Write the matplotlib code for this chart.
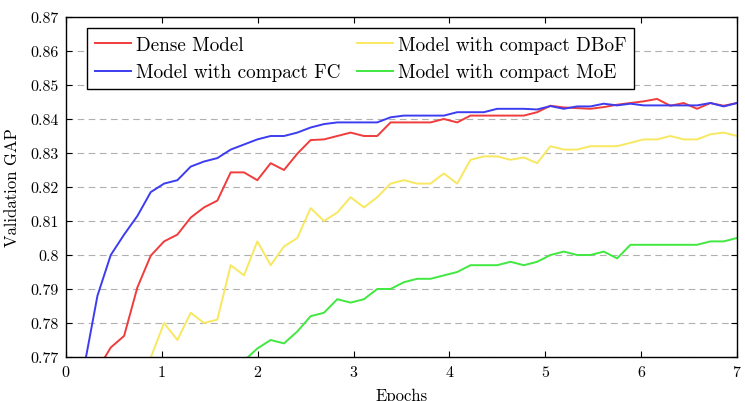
import numpy as np
import matplotlib
matplotlib.use("Agg")
import matplotlib.pyplot as plt

# epochs at which validation GAP was logged
epochs = np.linspace(0.05, 7.0, 51)

nan = np.nan
dense = [nan, nan, 0.7663, 0.7728, 0.7762, 0.7905, 0.7998, 0.804, 0.806, 0.811,
         0.814, 0.816, 0.8243, 0.8243, 0.822, 0.827, 0.825, 0.8298, 0.8338, 0.834,
         0.835, 0.836, 0.835, 0.835, 0.839, 0.839, 0.839, 0.839, 0.840, 0.839,
         0.841, 0.841, 0.841, 0.841, 0.841, 0.842, 0.8439, 0.8434, 0.8432, 0.843,
         0.8435, 0.8442, 0.8447, 0.8452, 0.8459, 0.8439, 0.8447, 0.843, 0.8447, 0.8439,
         0.8447]
compact_fc = [nan, 0.767, 0.788, 0.800, 0.806, 0.8115, 0.8185, 0.821, 0.822, 0.826,
              0.8275, 0.8285, 0.831, 0.8325, 0.834, 0.835, 0.835, 0.836, 0.8375, 0.8385,
              0.839, 0.839, 0.839, 0.839, 0.8405, 0.841, 0.841, 0.841, 0.841, 0.842,
              0.842, 0.842, 0.843, 0.843, 0.843, 0.8428, 0.8438, 0.843, 0.8437, 0.8437,
              0.8445, 0.844, 0.8445, 0.844, 0.844, 0.844, 0.844, 0.844, 0.8447, 0.8437,
              0.8447]
compact_dbof = [nan, nan, nan, nan, nan, 0.762, 0.7698, 0.780, 0.775, 0.783,
                0.780, 0.781, 0.797, 0.794, 0.804, 0.797, 0.8025, 0.805, 0.8138, 0.810,
                0.8125, 0.817, 0.814, 0.817, 0.821, 0.822, 0.821, 0.821, 0.824, 0.821,
                0.828, 0.829, 0.829, 0.828, 0.8287, 0.827, 0.832, 0.831, 0.831, 0.832,
                0.832, 0.832, 0.833, 0.834, 0.834, 0.835, 0.834, 0.834, 0.8355, 0.836,
                0.835]
compact_moe = [nan, nan, nan, nan, nan, nan, nan, nan, nan, nan,
               nan, nan, nan, 0.7689, 0.7725, 0.775, 0.774, 0.7775, 0.782, 0.783,
               0.787, 0.786, 0.787, 0.790, 0.790, 0.792, 0.793, 0.793, 0.794, 0.795,
               0.797, 0.797, 0.797, 0.798, 0.797, 0.798, 0.800, 0.801, 0.800, 0.800,
               0.801, 0.799, 0.803, 0.803, 0.803, 0.803, 0.803, 0.803, 0.804, 0.804,
               0.805]

plt.rcParams["font.family"] = "serif"
plt.rcParams["font.serif"] = ["cmr10"]
plt.rcParams["axes.formatter.use_mathtext"] = True
plt.rcParams["mathtext.fontset"] = "cm"

fig = plt.figure(figsize=(7.45, 4.02), dpi=100)
ax = fig.add_axes([66 / 745, 44 / 402, 671 / 745, 340 / 402])

ax.plot(epochs, dense, color="#f03c3c", lw=1.4, label="Dense Model")
ax.plot(epochs, compact_fc, color="#3c3cf0", lw=1.4, label="Model with compact FC")
ax.plot(epochs, compact_dbof, color="#f8e860", lw=1.4, label="Model with compact DBoF")
ax.plot(epochs, compact_moe, color="#40e840", lw=1.4, label="Model with compact MoE")

ax.set_xlim(0, 7)
ax.set_ylim(0.77, 0.87)
ax.set_xticks(range(8))
yt = [0.77, 0.78, 0.79, 0.80, 0.81, 0.82, 0.83, 0.84, 0.85, 0.86, 0.87]
ax.set_yticks(yt)
ax.set_yticklabels(["%g" % v for v in yt])
ax.tick_params(direction="in", top=True, right=True, length=4, width=0.8,
               labelsize=11.5, pad=5)
ax.yaxis.grid(True, ls=(0, (6, 4)), color="#b0b0b0", lw=0.8)
for s in ax.spines.values():
    s.set_linewidth(1.0)

ax.set_xlabel("Epochs", fontsize=12, labelpad=6)
ax.set_ylabel("Validation GAP", fontsize=12, labelpad=8)

leg = ax.legend(ncol=2, loc="upper left", bbox_to_anchor=(21 / 671, 1 - 11 / 340),
                fontsize=13.8, frameon=True, fancybox=False, framealpha=1,
                edgecolor="black", handlelength=1.9, handletextpad=0.26,
                columnspacing=0.85, borderpad=0.4, labelspacing=0.5,
                borderaxespad=0)
leg.get_frame().set_linewidth(1.0)

fig.savefig("out.png", dpi=100)
